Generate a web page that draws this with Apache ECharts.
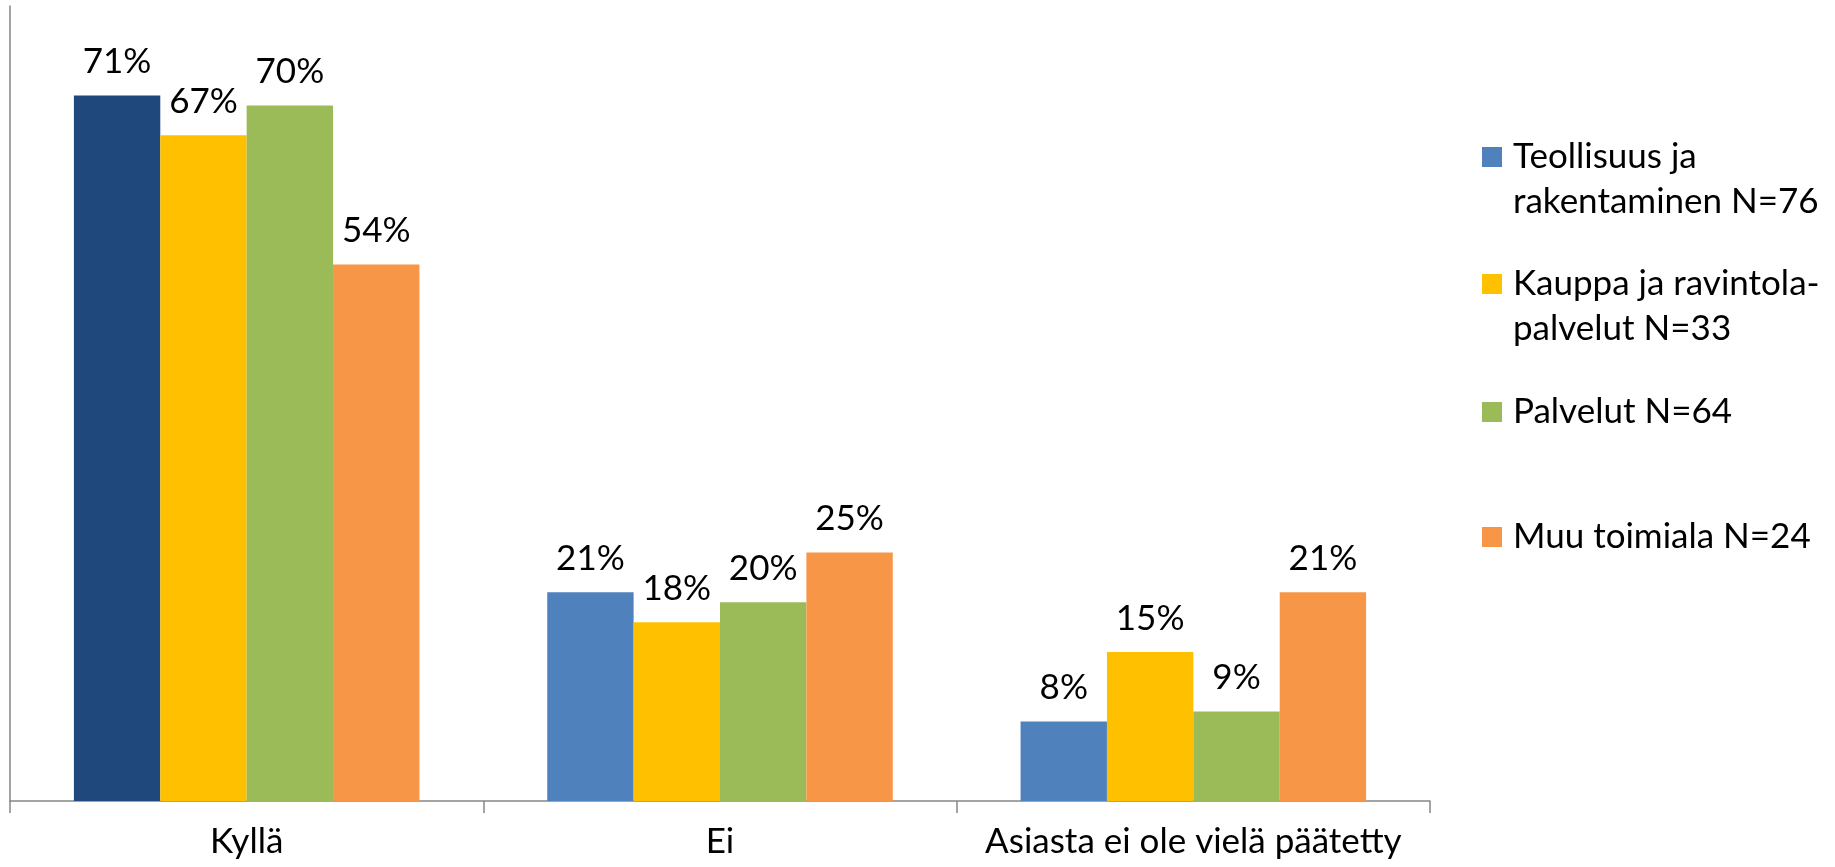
<!DOCTYPE html>
<html>
<head>
<meta charset="utf-8">
<script src="https://cdn.jsdelivr.net/npm/echarts@6/dist/echarts.min.js"></script>
<style>
  html, body { margin: 0; padding: 0; background: #fff; }
  #chart { width: 1835px; height: 867px; }
</style>
</head>
<body>
<div id="chart"></div>
<script>
// Categories and series
const categories = ['Kyllä', 'Ei', 'Asiasta ei ole vielä päätetty']
const seriesNames = [
  'Teollisuus ja\nrakentaminen N=76',
  'Kauppa ja ravintola-\npalvelut N=33',
  'Palvelut N=64',
  'Muu toimiala N=24'
]
const teollisuus = [71, 21, 8]
const kauppa = [67, 18, 15]
const palvelut = [70, 20, 9]
const muu = [54, 25, 21]
const values = [teollisuus, kauppa, palvelut, muu]

const colors = ['#4F81BD', '#FFC000', '#9BBB59', '#F79646']
const highlightColor = '#1F497D' // first Kyllä bar is darker in the original

const font = 'Lato'
const fontSize = 35

const chart = echarts.init(document.getElementById('chart'))

// Legend icon centers (y) for each item
const legendCenters = [157, 284, 412, 537]

const legends = seriesNames.map((name, i) => ({
  data: [name],
  orient: 'vertical',
  left: 1482,
  top: legendCenters[i] - 67.5,
  padding: 0,
  icon: 'rect',
  itemWidth: 20,
  itemHeight: 20,
  selectedMode: false,
  // leading empty line keeps the first text line level with the icon
  formatter: n => '\n' + n + (n.indexOf('\n') < 0 ? '\n' : ''),
  textStyle: {
    fontFamily: font,
    fontSize: fontSize,
    lineHeight: 45,
    color: '#000',
    padding: [0, 0, 0, 6]
  }
}))

const series = seriesNames.map((name, i) => ({
  name: name,
  type: 'bar',
  barGap: 0,
  barCategoryGap: '27%',
  itemStyle: { color: colors[i] },
  data: values[i].map((v, j) => (i === 0 && j === 0)
    ? { value: v, itemStyle: { color: highlightColor } }
    : v),
  label: {
    show: true,
    position: 'top',
    distance: 16,
    formatter: '{c}%',
    fontFamily: font,
    fontSize: fontSize,
    color: '#000'
  }
}))

chart.setOption({
  animation: false,
  color: colors,
  legend: legends,
  grid: {
    left: 10,
    right: 405,
    top: 6,
    bottom: 66
  },
  xAxis: {
    type: 'category',
    data: categories,
    axisLine: { lineStyle: { color: '#868686', width: 1.5 } },
    axisTick: { show: true, length: 12, lineStyle: { color: '#868686', width: 1.5 } },
    axisLabel: {
      interval: 0,
      margin: 23,
      fontFamily: font,
      fontSize: fontSize,
      color: '#000'
    }
  },
  yAxis: {
    type: 'value',
    min: 0,
    max: 80,
    axisLine: { show: true, lineStyle: { color: '#868686', width: 1.5 } },
    axisTick: { show: false },
    axisLabel: { show: false },
    splitLine: { show: false }
  },
  series: series
})

window.addEventListener('resize', () => chart.resize())
</script>
</body>
</html>
